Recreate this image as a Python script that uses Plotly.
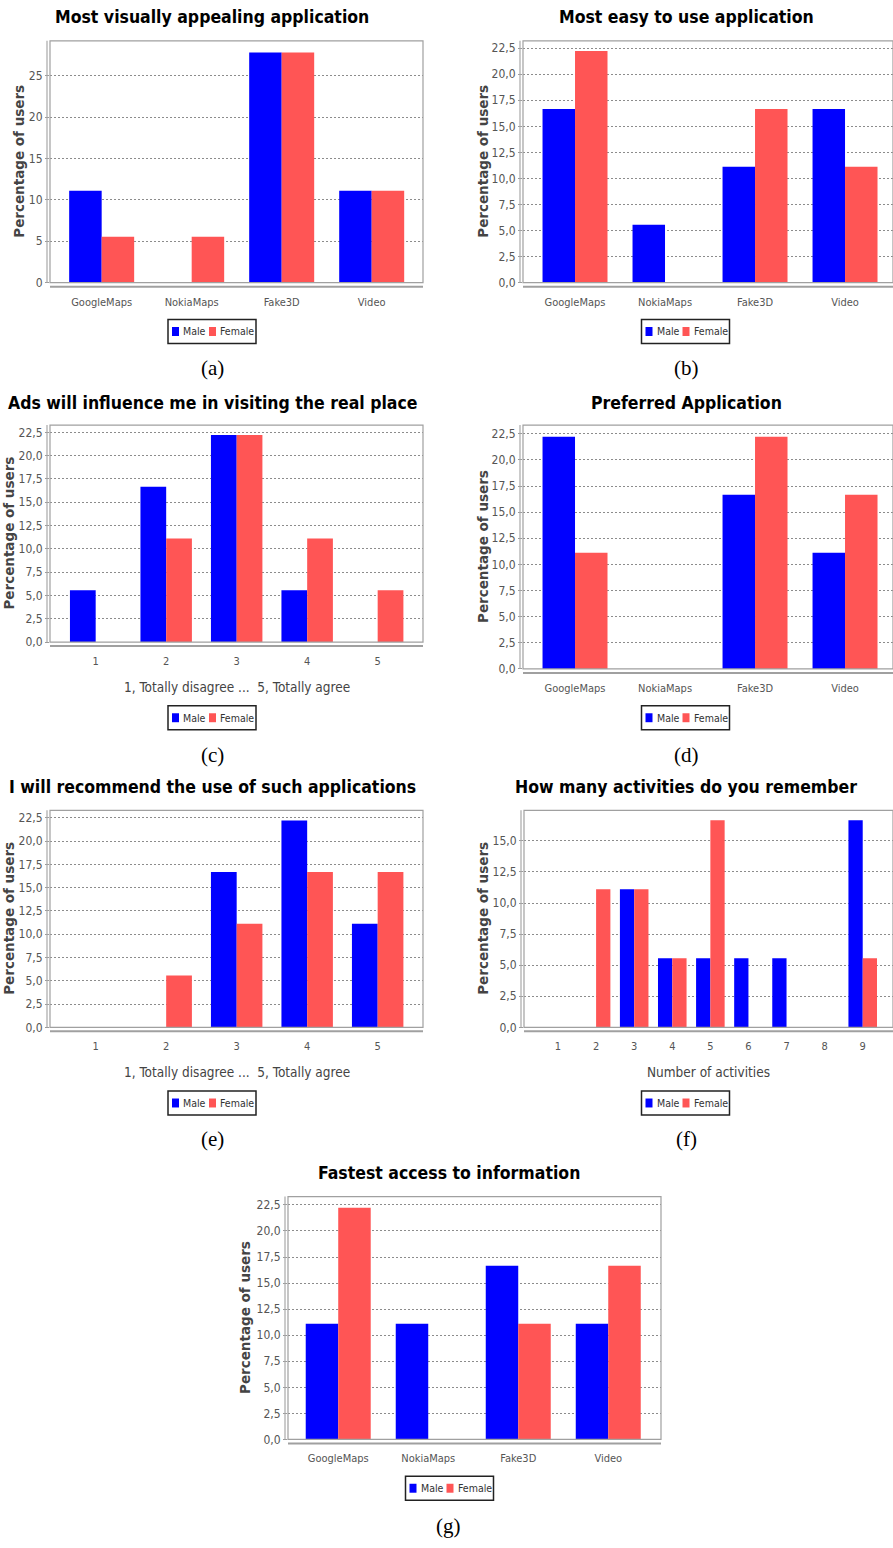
import plotly.graph_objects as go

W, H = 893, 1548

# ---- data (percentage of users) ----
apps = ["GoogleMaps", "NokiaMaps", "Fake3D", "Video"]
likert = ["1", "2", "3", "4", "5"]
activity_counts = ["1", "2", "3", "4", "5", "6", "7", "8", "9"]

appeal_male = [11.11, 0.0, 27.78, 11.11]
appeal_female = [5.56, 5.56, 27.78, 11.11]

easy_male = [16.67, 5.56, 11.11, 16.67]
easy_female = [22.22, 0.0, 16.67, 11.11]

ads_male = [5.56, 16.67, 22.22, 5.56, 0.0]
ads_female = [0.0, 11.11, 22.22, 11.11, 5.56]

preferred_male = [22.22, 0.0, 16.67, 11.11]
preferred_female = [11.11, 0.0, 22.22, 16.67]

recommend_male = [0.0, 0.0, 16.67, 22.22, 11.11]
recommend_female = [0.0, 5.56, 11.11, 16.67, 16.67]

activities_male = [0.0, 0.0, 11.11, 5.56, 5.56, 5.56, 5.56, 0.0, 16.67]
activities_female = [0.0, 11.11, 11.11, 5.56, 16.67, 0.0, 0.0, 0.0, 5.56]

fastest_male = [11.11, 11.11, 16.67, 11.11]
fastest_female = [22.22, 0.0, 11.11, 16.67]

likert_title = "1, Totally disagree ...  5, Totally agree"

# ---- styling ----
MALE = "#0000FF"
FEMALE = "#FF5555"
NARROW = "Liberation Sans Narrow, DejaVu Sans Condensed, Arial Narrow, sans-serif"
SERIF = "Liberation Serif, DejaVu Serif, serif"

panels = [
    dict(title="Most visually appealing application", cats=apps,
         male=appeal_male, female=appeal_female, xtitle=None, caption="(a)",
         box=(50, 41, 423, 284), ymax=29.2, dtick=5, fmt="d",
         xr=(-0.574, 3.57), bw=0.361, title_xy=(212, 17), ylab_x=19,
         xtitle_y=None, legend_xy=(212, 333), cap_xy=(212, 370)),
    dict(title="Most easy to use application", cats=apps,
         male=easy_male, female=easy_female, xtitle=None, caption="(b)",
         box=(523, 41, 893, 284), ymax=23.2, dtick=2.5, fmt=".1f",
         xr=(-0.578, 3.533), bw=0.361, title_xy=(686, 17), ylab_x=483,
         xtitle_y=None, legend_xy=(685.5, 333), cap_xy=(686, 370)),
    dict(title="Ads will influence me in visiting the real place", cats=likert,
         male=ads_male, female=ads_female, xtitle=likert_title, caption="(c)",
         box=(50, 427, 423, 645), ymax=23.28, dtick=2.5, fmt=".1f",
         xr=(-0.648, 4.643), bw=0.365, title_xy=(212, 405), ylab_x=9,
         xtitle_y=690, legend_xy=(212, 721), cap_xy=(212, 758)),
    dict(title="Preferred Application", cats=apps,
         male=preferred_male, female=preferred_female, xtitle=None, caption="(d)",
         box=(523, 427, 893, 672), ymax=23.33, dtick=2.5, fmt=".1f",
         xr=(-0.578, 3.533), bw=0.361, title_xy=(686, 405), ylab_x=483,
         xtitle_y=None, legend_xy=(685.5, 721), cap_xy=(686, 758)),
    dict(title="I will recommend the use of such applications", cats=likert,
         male=recommend_male, female=recommend_female, xtitle=likert_title, caption="(e)",
         box=(50, 814, 423, 1032), ymax=23.3, dtick=2.5, fmt=".1f",
         xr=(-0.648, 4.643), bw=0.365, title_xy=(212, 791), ylab_x=9,
         xtitle_y=1077, legend_xy=(212, 1108), cap_xy=(212, 1144)),
    dict(title="How many activities do you remember", cats=activity_counts,
         male=activities_male, female=activities_female, xtitle="Number of activities",
         caption="(f)",
         box=(524, 814, 893, 1032), ymax=17.46, dtick=2.5, fmt=".1f",
         xr=(-0.893, 8.795), bw=0.375, title_xy=(686, 791), ylab_x=483,
         xtitle_y=1077, legend_xy=(685.5, 1108), cap_xy=(686, 1144)),
    dict(title="Fastest access to information", cats=apps,
         male=fastest_male, female=fastest_female, xtitle=None, caption="(g)",
         box=(288, 1202, 661, 1446), ymax=23.3, dtick=2.5, fmt=".1f",
         xr=(-0.558, 3.586), bw=0.361, title_xy=(449, 1178), ylab_x=245,
         xtitle_y=None, legend_xy=(449.5, 1495), cap_xy=(449, 1533)),
]


def px(x):
    return x / W


def py(y):
    return 1 - y / H


fig = go.Figure()
shapes = []
annotations = []
layout_axes = {}

for i, p in enumerate(panels, start=1):
    sfx = "" if i == 1 else str(i)
    xa, ya = "x" + sfx, "y" + sfx
    left, top, right, bottom = p["box"]

    fig.add_trace(go.Bar(
        x=p["cats"], y=p["male"], name="Male", xaxis=xa, yaxis=ya,
        width=p["bw"], offset=-p["bw"], showlegend=False,
        marker=dict(color=MALE, line=dict(width=0)),
    ))
    fig.add_trace(go.Bar(
        x=p["cats"], y=p["female"], name="Female", xaxis=xa, yaxis=ya,
        width=p["bw"], offset=0, showlegend=False,
        marker=dict(color=FEMALE, line=dict(width=0)),
    ))

    layout_axes["xaxis" + sfx] = dict(
        domain=[px(left), px(right)], anchor=ya, type="category",
        categoryorder="array", categoryarray=p["cats"],
        range=list(p["xr"]), showgrid=False, zeroline=False, showline=False,
        ticks="", ticklabelstandoff=11,
        tickfont=dict(family=NARROW, size=11, color="#555555"),
    )
    layout_axes["yaxis" + sfx] = dict(
        domain=[py(bottom), py(top)], anchor=xa, range=[0, p["ymax"]],
        tick0=0, dtick=p["dtick"], tickformat=p["fmt"],
        showgrid=True, gridcolor="#8C8C8C", griddash="2px,2px", gridwidth=1,
        zeroline=False, showline=False,
        ticks="outside", ticklen=4, tickcolor="#9A9A9A",
        tickfont=dict(family=NARROW, size=12, color="#555555"),
    )

    # plot frame and offset axis lines
    shapes.append(dict(type="rect", xref="paper", yref="paper",
                       x0=px(left), x1=px(right), y0=py(bottom), y1=py(top),
                       line=dict(color="#A0A0A0", width=1.2), layer="above"))
    shapes.append(dict(type="line", xref="paper", yref="paper",
                       x0=px(left - 3), x1=px(left - 3), y0=py(bottom), y1=py(top),
                       line=dict(color="#A8A8A8", width=1.2)))
    shapes.append(dict(type="line", xref="paper", yref="paper",
                       x0=px(left), x1=px(right), y0=py(bottom + 4), y1=py(bottom + 4),
                       line=dict(color="#A0A0A0", width=2)))

    # chart title
    tx, ty = p["title_xy"]
    annotations.append(dict(text="<b>" + p["title"] + "</b>", xref="paper", yref="paper",
                            x=px(tx), y=py(ty), xanchor="center", yanchor="middle",
                            showarrow=False,
                            font=dict(family=NARROW, size=17.5, color="#000000")))
    # y axis title
    annotations.append(dict(text="<b>Percentage of users</b>", xref="paper", yref="paper",
                            x=px(p["ylab_x"]), y=py((top + bottom) / 2),
                            xanchor="center", yanchor="middle", textangle=-90,
                            showarrow=False,
                            font=dict(family="DejaVu Sans, sans-serif", size=13.5,
                                      color="#444444")))
    # x axis title
    if p["xtitle"]:
        annotations.append(dict(text=p["xtitle"], xref="paper", yref="paper",
                                x=px((left + right) / 2), y=py(p["xtitle_y"]),
                                xanchor="center", yanchor="middle", showarrow=False,
                                font=dict(family=NARROW, size=13.5, color="#444444")))
    # legend box
    cx, cy = p["legend_xy"]
    shapes.append(dict(type="rect", xref="paper", yref="paper",
                       x0=px(cx - 44), x1=px(cx + 44), y0=py(cy + 12), y1=py(cy - 12),
                       line=dict(color="#222222", width=1.5), fillcolor="white"))
    shapes.append(dict(type="rect", xref="paper", yref="paper",
                       x0=px(cx - 40), x1=px(cx - 33), y0=py(cy + 4.5), y1=py(cy - 4.5),
                       line=dict(width=0), fillcolor=MALE))
    shapes.append(dict(type="rect", xref="paper", yref="paper",
                       x0=px(cx - 3), x1=px(cx + 4), y0=py(cy + 4.5), y1=py(cy - 4.5),
                       line=dict(width=0), fillcolor=FEMALE))
    annotations.append(dict(text="Male", xref="paper", yref="paper",
                            x=px(cx - 31), y=py(cy), xanchor="left", yanchor="middle",
                            showarrow=False,
                            font=dict(family=NARROW, size=10.5, color="#333333")))
    annotations.append(dict(text="Female", xref="paper", yref="paper",
                            x=px(cx + 6), y=py(cy), xanchor="left", yanchor="middle",
                            showarrow=False,
                            font=dict(family=NARROW, size=10.5, color="#333333")))
    # caption
    kx, ky = p["cap_xy"]
    annotations.append(dict(text=p["caption"], xref="paper", yref="paper",
                            x=px(kx), y=py(ky), xanchor="center", yanchor="middle",
                            showarrow=False,
                            font=dict(family=SERIF, size=21, color="#000000")))

fig.update_layout(
    width=W, height=H, margin=dict(l=0, r=0, t=0, b=0),
    paper_bgcolor="white", plot_bgcolor="white",
    barmode="overlay", separators=",.",
    shapes=shapes, annotations=annotations,
    **layout_axes,
)

fig.write_html("out.html")
